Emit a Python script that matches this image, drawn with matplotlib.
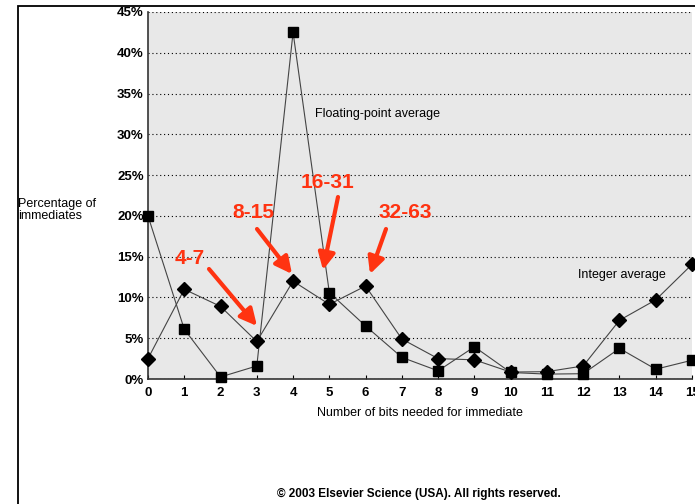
import matplotlib
matplotlib.use("Agg")
import matplotlib.pyplot as plt
from matplotlib.patches import Rectangle

bits = list(range(16))
fp_avg = [20.0, 6.1, 0.25, 1.6, 42.5, 10.6, 6.5, 2.65, 1.0, 3.95, 0.8, 0.6, 0.65, 3.75, 1.2, 2.3]
int_avg = [2.5, 11.0, 8.9, 4.6, 12.0, 9.15, 11.4, 4.9, 2.5, 2.35, 0.85, 0.9, 1.6, 7.2, 9.7, 14.05]
y_ticks = [0, 5, 10, 15, 20, 25, 30, 35, 40, 45]
y_labels = [f"{v}%" for v in y_ticks]

ann_labels = ["4-7", "8-15", "16-31", "32-63"]

plt.rcParams['font.family'] = ['Liberation Sans', 'DejaVu Sans']

fig = plt.figure(figsize=(6.95, 5.04), dpi=100)
W, H = 695, 504
ax = fig.add_axes([148 / W, 1 - 379 / H, (692 - 148) / W, (379 - 12) / H])
ax.set_facecolor('#e8e8e8')

# outer frame
fig.patches.append(Rectangle((18 / W, -0.1), 1.2, 1 - 6 / H + 0.1, transform=fig.transFigure,
                             fill=False, edgecolor='black', linewidth=1.3, zorder=0))

ax.plot(bits, fp_avg, color='#444444', lw=0.8, marker='s', ms=6.5, mfc='black', mec='black',
        clip_on=False, zorder=3)
ax.plot(bits, int_avg, color='#444444', lw=0.8, marker='D', ms=7, mfc='black', mec='black',
        clip_on=False, zorder=3)

ax.set_xlim(0, 15)
ax.set_ylim(0, 45)
ax.set_xticks(bits)
ax.set_xticklabels([str(b) for b in bits], fontsize=9.5, fontweight='bold')
ax.set_yticks(y_ticks)
ax.set_yticklabels(y_labels, fontsize=9.5, fontweight='bold')
ax.tick_params(axis='x', direction='in', length=3, pad=6)
ax.tick_params(axis='y', direction='in', length=0, pad=3)
ax.yaxis.grid(True, linestyle=(0, (1, 2.5)), color='black', linewidth=0.8)
ax.set_axisbelow(True)
for s in ['top', 'right']:
    ax.spines[s].set_visible(False)
ax.spines['left'].set_color('#333333')
ax.spines['bottom'].set_color('#333333')
ax.spines['left'].set_linewidth(1.2)
ax.spines['bottom'].set_linewidth(1.2)

def to_data(px, py):
    x = (px - 148) / (692 - 148) * 15
    y = (379 - py) / (379 - 12) * 45
    return x, y

ann_text_px = [(190, 258), (253, 212), (328, 183), (405, 212)]
ann_start_px = [(209, 269), (257, 229), (338, 197), (386, 229)]
ann_end_px = [(257, 326), (292, 274), (323, 270), (370, 274)]
for lab, tp, sp, ep in zip(ann_labels, ann_text_px, ann_start_px, ann_end_px):
    ax.text(*to_data(*tp), lab, color='#ff3311', fontsize=15, fontweight='bold',
            ha='center', va='center', zorder=5)
    ax.annotate('', xy=to_data(*ep), xytext=to_data(*sp),
                arrowprops=dict(arrowstyle='-|>,head_length=1.0,head_width=0.5',
                                color='#ff3311', lw=3, shrinkA=0, shrinkB=0), zorder=5)

ax.text(*to_data(315, 114), 'Floating-point average', fontsize=9, ha='left', va='center')
ax.text(*to_data(578, 275), 'Integer average', fontsize=9, ha='left', va='center')

fig.text(18 / W, 1 - 210 / H, 'Percentage of\nimmediates', fontsize=9, ha='left', va='center',
         linespacing=1.1)
fig.text(420 / W, 1 - 413 / H, 'Number of bits needed for immediate', fontsize=9,
         ha='center', va='center')
fig.text(419 / W, 1 - 494 / H, '© 2003 Elsevier Science (USA). All rights reserved.',
         fontsize=8.5, fontweight='bold', ha='center', va='center')

fig.savefig('out.png', dpi=100)
